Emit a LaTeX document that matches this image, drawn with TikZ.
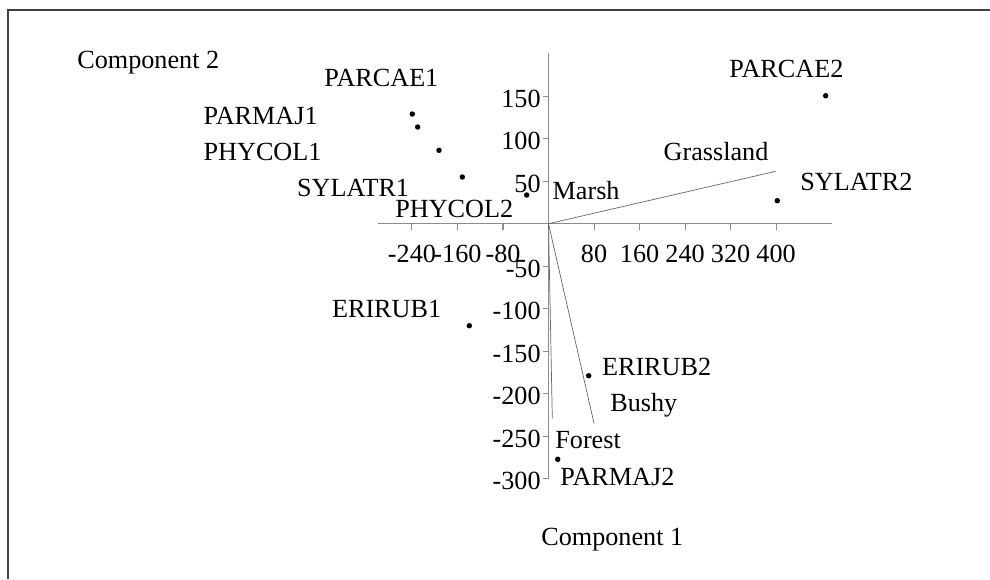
\documentclass[tikz,border=0pt]{standalone}
\usepackage{fontspec}
\setmainfont{Liberation Serif}

\begin{document}
\begin{tikzpicture}[
  x=0.02cm,
  y=-0.02cm,
  lbl/.style={
    anchor=base west,
    inner sep=0pt,
    font=\fontsize{14.9}{17}\selectfont
  },
  ticklbl/.style={
    inner sep=0pt,
    font=\fontsize{14.9}{17}\selectfont
  },
  axisline/.style={draw=black!45, line width=0.6pt},
  vecline/.style={draw=black!60, line width=0.4pt},
  mydot/.style={fill=black}
]
\useasboundingbox (0,0) rectangle (990,579);
\draw[black!75, line width=0.8pt] (990,10) -- (8,10) -- (8,579);
\coordinate (origin) at (548.5,223.7);
\coordinate (xmin) at (378,223.7);
\coordinate (xmax) at (832,223.7);
\coordinate (ytop) at (548.5,53);
\coordinate (ybot) at (548.5,478.7);
\draw[axisline] (xmin) -- (xmax);
\draw[axisline] (ytop) -- (ybot);
\foreach \v [count=\i] in {-240,-160,-80,80,160,240,320,400} {
  \draw[axisline] ({548.5+0.569*\v},223.7) -- ++(0,6);
  \node[ticklbl, anchor=north] (xt\i) at ({548.5+0.569*\v},244.5) {\v};
}
\foreach \v [count=\i] in {150,100,50,-50,-100,-150,-200,-250,-300} {
  \draw[axisline] (548.5,{223.7-0.85*\v}) -- ++(-6,0);
  \node[ticklbl, anchor=east] (yt\i) at (541,{226.4-0.85*\v}) {\v};
}
\coordinate (grass) at (775.7,171.3);
\coordinate (bushy) at (594,423.3);
\coordinate (forest) at (552.3,418.3);
\draw[vecline] (origin) -- (grass);
\draw[vecline] (origin) -- (bushy);
\draw[vecline] (origin) -- (forest);
\fill[mydot] (412.3,114) circle (0.055cm);
\fill[mydot] (417.7,127) circle (0.055cm);
\fill[mydot] (439,150.3) circle (0.055cm);
\fill[mydot] (462.3,177) circle (0.055cm);
\fill[mydot] (526.7,195) circle (0.055cm);
\fill[mydot] (825.7,95.7) circle (0.055cm);
\fill[mydot] (777.3,200.7) circle (0.055cm);
\fill[mydot] (469.3,325.7) circle (0.055cm);
\fill[mydot] (588.7,375.7) circle (0.055cm);
\fill[mydot] (557.7,459.3) circle (0.055cm);
\node[lbl] (comp2) at (77,68.3) {Component 2};
\node[lbl] (parcae1) at (324,86.7) {PARCAE1};
\node[lbl] (parmaj1) at (203.3,124) {PARMAJ1};
\node[lbl] (phycol1) at (203.3,160.7) {PHYCOL1};
\node[lbl] (sylatr1) at (296.7,196) {SYLATR1};
\node[lbl] (phycol2) at (395,217.3) {PHYCOL2};
\node[lbl] (marsh) at (552.3,199.3) {Marsh};
\node[lbl] (grassland) at (663.3,160) {Grassland};
\node[lbl] (parcae2) at (729,77.7) {PARCAE2};
\node[lbl] (sylatr2) at (800,190.7) {SYLATR2};
\node[lbl] (erirub1) at (331.7,317.7) {ERIRUB1};
\node[lbl] (erirub2) at (601.7,375) {ERIRUB2};
\node[lbl] (bushylbl) at (610,411.7) {Bushy};
\node[lbl] (forestlbl) at (555,448.3) {Forest};
\node[lbl] (parmaj2) at (560,485) {PARMAJ2};
\node[lbl] (comp1) at (541,545.7) {Component 1};
\end{tikzpicture}
\end{document}
